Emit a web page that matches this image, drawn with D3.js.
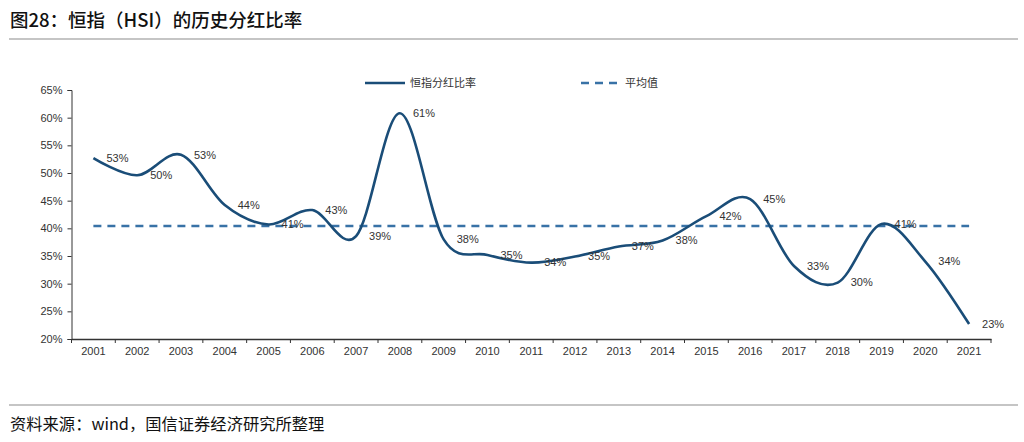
<!DOCTYPE html>
<html>
<head>
<meta charset="utf-8">
<script src="https://cdn.jsdelivr.net/npm/d3@7"></script>
<style>
  body { margin: 0; background: #fff; }
  svg { display: block; }
</style>
</head>
<body>
<svg id="chart"></svg>
<script>
const years = ["2001","2002","2003","2004","2005","2006","2007","2008","2009","2010","2011",
               "2012","2013","2014","2015","2016","2017","2018","2019","2020","2021"];
const payoutRatio = [52.7, 49.6, 53.3, 44.2, 40.7, 43.3, 38.6, 60.8, 38.0, 35.2, 33.8,
                     34.9, 36.7, 37.8, 42.2, 45.3, 33.2, 30.2, 40.8, 34.0, 22.7];
const averageRatio = [40.4];
const yTicks = [20, 25, 30, 35, 40, 45, 50, 55, 60, 65];
const legendNames = ["恒指分红比率", "平均值"];

const width = 1024, height = 442;
const plot = { left: 71.5, right: 991, top: 90, bottom: 339 };
const lineColor = "#1a4d78";
const avgColor = "#3872a6";
const textColor = "#333";

const svg = d3.select("#chart")
    .attr("width", width)
    .attr("height", height)
    .attr("viewBox", [0, 0, width, height]);

// title + rules
svg.append("text")
    .attr("x", 10).attr("y", 27)
    .attr("font-family", "'Noto Sans CJK SC', sans-serif")
    .attr("font-size", 18.5)
    .attr("font-weight", 500)
    .attr("fill", "#111")
    .text("图28：恒指（HSI）的历史分红比率");
svg.append("line")
    .attr("x1", 9).attr("x2", 1018).attr("y1", 39).attr("y2", 39)
    .attr("stroke", "#8c8c8c").attr("stroke-width", 1.2);
svg.append("line")
    .attr("x1", 9).attr("x2", 1018).attr("y1", 405).attr("y2", 405)
    .attr("stroke", "#8c8c8c").attr("stroke-width", 1.2);
svg.append("text")
    .attr("x", 10).attr("y", 430)
    .attr("font-family", "'Noto Sans CJK SC', sans-serif")
    .attr("font-size", 16.3)
    .attr("fill", "#111")
    .text("资料来源：wind，国信证券经济研究所整理");

const x = d3.scaleBand().domain(years).range([plot.left, plot.right]).padding(0);
const y = d3.scaleLinear().domain([20, 65]).range([plot.bottom, plot.top]);
const cx = d => x(d) + x.bandwidth() / 2;

// y axis
const yAxis = svg.append("g")
    .attr("transform", `translate(${plot.left},0)`)
    .call(d3.axisLeft(y).tickValues(yTicks).tickSize(4).tickPadding(5).tickFormat(d => d + "%"));
yAxis.select(".domain").attr("stroke", "#333");
yAxis.selectAll(".tick line").attr("stroke", "#333");
yAxis.selectAll("text")
    .attr("font-family", "Arial, 'Liberation Sans', sans-serif")
    .attr("font-size", 11)
    .attr("fill", textColor);

// x axis
const xAxis = svg.append("g")
    .attr("transform", `translate(0,${plot.bottom})`)
    .call(d3.axisBottom(x).tickSize(0).tickPadding(8));
xAxis.select(".domain").attr("stroke", "#333").attr("stroke-width", 1.5);
xAxis.selectAll("text")
    .attr("font-family", "Arial, 'Liberation Sans', sans-serif")
    .attr("font-size", 11)
    .attr("fill", textColor);
xAxis.selectAll(".edge")
    .data(years.map(d => x(d)).concat([x.range()[1]]))
    .join("line")
    .attr("class", "edge")
    .attr("x1", d => d).attr("x2", d => d)
    .attr("y1", 0).attr("y2", 4)
    .attr("stroke", "#333");

// average line
svg.append("line")
    .attr("x1", cx(years[0])).attr("x2", cx(years[years.length - 1]))
    .attr("y1", y(averageRatio[0])).attr("y2", y(averageRatio[0]))
    .attr("stroke", avgColor)
    .attr("stroke-width", 2.5)
    .attr("stroke-dasharray", "8,6");

// payout ratio line
const line = d3.line()
    .x((d, i) => cx(years[i]))
    .y(d => y(d))
    .curve(d3.curveCardinal.tension(0));
svg.append("path")
    .datum(payoutRatio)
    .attr("fill", "none")
    .attr("stroke", lineColor)
    .attr("stroke-width", 2.6)
    .attr("d", line);

// data labels
svg.append("g")
    .attr("font-family", "Arial, 'Liberation Sans', sans-serif")
    .attr("font-size", 11)
    .attr("fill", textColor)
  .selectAll("text")
  .data(payoutRatio)
  .join("text")
    .attr("x", (d, i) => cx(years[i]) + 13)
    .attr("y", d => y(d))
    .attr("dy", "0.35em")
    .text(d => Math.round(d) + "%");

// legend
const legend = svg.append("g")
    .attr("font-family", "'Noto Sans CJK SC', sans-serif")
    .attr("font-size", 11)
    .attr("fill", textColor);
legend.append("line")
    .attr("x1", 365).attr("x2", 405).attr("y1", 83).attr("y2", 83)
    .attr("stroke", lineColor).attr("stroke-width", 2.6);
legend.append("text").attr("x", 410).attr("y", 83).attr("dy", "0.35em").text(legendNames[0]);
legend.append("line")
    .attr("x1", 581).attr("x2", 618).attr("y1", 83).attr("y2", 83)
    .attr("stroke", avgColor).attr("stroke-width", 2.5).attr("stroke-dasharray", "8,6");
legend.append("text").attr("x", 625).attr("y", 83).attr("dy", "0.35em").text(legendNames[1]);
</script>
</body>
</html>
